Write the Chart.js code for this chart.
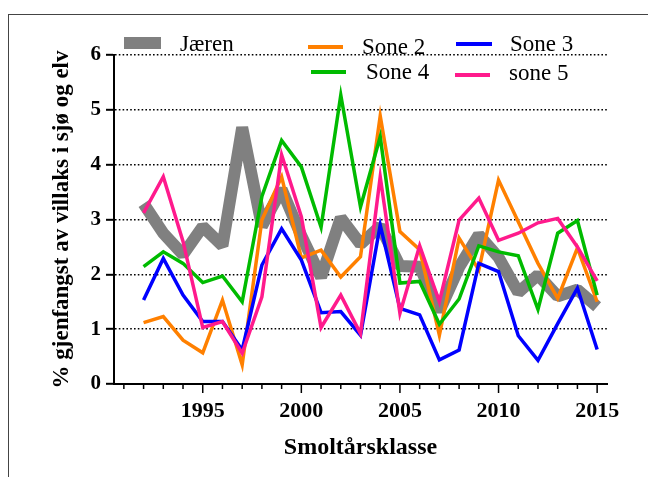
<!DOCTYPE html>
<html lang="no">
<head>
<meta charset="UTF-8">
<title>Gjenfangst av villaks</title>
<style>
  html, body { margin: 0; padding: 0; background: #fff; overflow: hidden; }
  #wrap { position: relative; width: 648px; height: 477px; }
  #frame { position: absolute; left: 8px; top: 14px; width: 700px; height: 500px; border: 1px solid #444; box-sizing: border-box; }
  canvas { position: absolute; left: 0; top: 0; }
</style>
</head>
<body>
<div id="wrap">
  <div id="frame"></div>
  <canvas id="myChart" width="648" height="477"></canvas>
</div>

<script src="https://cdn.jsdelivr.net/npm/chart.js"></script>
<script>
  // data
  const years  = [1992, 1993, 1994, 1995, 1996, 1997, 1998, 1999, 2000, 2001, 2002, 2003,
                  2004, 2005, 2006, 2007, 2008, 2009, 2010, 2011, 2012, 2013, 2014, 2015];
  const jaeren = [3.29, 2.75, 2.36, 2.87, 2.52, 4.68, 2.88, 3.55, 2.70, 1.95, 3.03, 2.55,
                  2.88, 2.15, 2.14, 1.33, 2.13, 2.72, 2.31, 1.67, 1.99, 1.60, 1.72, 1.41];
  const sone2  = [1.12, 1.23, 0.80, 0.57, 1.53, 0.35, 2.99, 3.78, 2.30, 2.44, 1.95, 2.32,
                  4.89, 2.78, 2.45, 0.89, 2.66, 2.08, 3.72, 2.96, 2.20, 1.56, 2.48, 1.50];
  const sone3  = [1.53, 2.29, 1.62, 1.14, 1.14, 0.62, 2.17, 2.83, 2.26, 1.30, 1.32, 0.89,
                  2.90, 1.38, 1.26, 0.44, 0.62, 2.20, 2.05, 0.88, 0.43, 1.10, 1.75, 0.63];
  const sone4  = [2.14, 2.41, 2.20, 1.85, 1.97, 1.50, 3.42, 4.44, 3.96, 2.86, 5.27, 3.23,
                  4.51, 1.84, 1.87, 1.09, 1.55, 2.52, 2.41, 2.34, 1.36, 2.75, 2.98, 1.62];
  const sone5  = [3.12, 3.78, 2.60, 1.03, 1.14, 0.56, 1.59, 4.18, 3.05, 1.03, 1.62, 0.92,
                  3.78, 1.29, 2.52, 1.50, 2.99, 3.39, 2.62, 2.75, 2.94, 3.02, 2.50, 1.88];
  const xTicks = [1991, 1992, 1993, 1994, 1995, 1996, 1997, 1998, 1999, 2000, 2001, 2002, 2003,
                  2004, 2005, 2006, 2007, 2008, 2009, 2010, 2011, 2012, 2013, 2014, 2015];
  const yTicks = [0, 1, 2, 3, 4, 5, 6];

  function pts(vals) {
    return years.map((yr, i) => ({ x: yr, y: vals[i] }));
  }

  Chart.defaults.font.family = "'Liberation Serif', 'Times New Roman', serif";
  Chart.defaults.color = '#000';

  // legend placed like in the original (two rows, overlapping the top of the plot)
  const legendPos = [
    { x1: 124, x2: 161, y: 43, tx: 180, ty: 45, w: 12 },
    { x1: 308, x2: 343, y: 47, tx: 362, ty: 48, w: 4 },
    { x1: 456, x2: 492, y: 44, tx: 510, ty: 45, w: 4 },
    { x1: 311, x2: 346, y: 72, tx: 366, ty: 73, w: 4 },
    { x1: 455, x2: 490, y: 75, tx: 509, ty: 74, w: 4 }
  ];

  const extras = {
    id: 'extras',
    afterDraw(chart) {
      const c = chart.ctx;
      const xs = chart.scales.x;
      // x tick marks, long on every 5th year
      c.save();
      c.strokeStyle = '#000';
      c.lineWidth = 1.5;
      xs.ticks.forEach(t => {
        const px = xs.getPixelForValue(t.value);
        const len = t.value % 5 === 0 ? 9 : 5;
        c.beginPath();
        c.moveTo(px, xs.top);
        c.lineTo(px, xs.top + len);
        c.stroke();
      });
      // legend
      c.font = "23px 'Liberation Serif'";
      c.textBaseline = 'middle';
      c.textAlign = 'left';
      chart.data.datasets.forEach((ds, i) => {
        const p = legendPos[i];
        c.strokeStyle = ds.borderColor;
        c.lineWidth = p.w;
        c.lineCap = 'butt';
        c.beginPath();
        c.moveTo(p.x1, p.y);
        c.lineTo(p.x2, p.y);
        c.stroke();
        c.fillStyle = '#000';
        c.fillText(ds.label, p.tx, p.ty);
      });
      c.restore();
    }
  };

  const ctx = document.querySelector('#myChart');
  new Chart(ctx, {
    type: 'line',
    data: {
      datasets: [
        { label: 'Jæren',  data: pts(jaeren), borderColor: '#808080', borderWidth: 12, borderJoinStyle: 'bevel', order: 5 },
        { label: 'Sone 2', data: pts(sone2),  borderColor: '#ff8000', borderWidth: 3.5, order: 4 },
        { label: 'Sone 3', data: pts(sone3),  borderColor: '#0000ff', borderWidth: 3.5, order: 3 },
        { label: 'Sone 4', data: pts(sone4),  borderColor: '#00bb00', borderWidth: 3.5, order: 2 },
        { label: 'sone 5', data: pts(sone5),  borderColor: '#ff1a8c', borderWidth: 3.5, order: 1 }
      ]
    },
    options: {
      responsive: false,
      animation: false,
      elements: {
        line: { tension: 0, fill: false },
        point: { radius: 0 }
      },
      layout: { padding: { left: 0, top: 55, right: 41, bottom: 0 } },
      plugins: {
        legend: { display: false },
        tooltip: { enabled: false }
      },
      scales: {
        x: {
          type: 'linear',
          min: 1990.5,
          max: 2015.5,
          afterBuildTicks: s => { s.ticks = xTicks.map(v => ({ value: v })); },
          afterFit: s => { s.height = 93; },
          ticks: {
            autoSkip: false,
            maxRotation: 0,
            padding: 14,
            font: { size: 22, weight: 'bold' },
            callback: v => (v % 5 === 0 ? String(v) : '')
          },
          grid: { display: true, drawOnChartArea: false, drawTicks: false },
          border: { display: true, color: '#000', width: 2 },
          title: {
            display: true,
            text: 'Smoltårsklasse',
            font: { size: 24, weight: 'bold' },
            padding: { top: 0, bottom: 15 }
          }
        },
        y: {
          min: 0,
          max: 6,
          afterBuildTicks: s => { s.ticks = yTicks.map(v => ({ value: v })); },
          afterFit: s => { s.width = 114; },
          ticks: {
            padding: 5,
            font: { size: 21, weight: 'bold' }
          },
          grid: {
            color: c => (c.tick && c.tick.value === 0 ? 'rgba(0,0,0,0)' : '#000'),
            lineWidth: 1.6,
            tickColor: '#000',
            tickWidth: 2,
            tickLength: 8,
            tickBorderDash: []
          },
          border: { display: true, color: '#000', width: 2, dash: [1.6, 2.2] },
          title: {
            display: true,
            text: '% gjenfangst av villaks i sjø og elv',
            font: { size: 23, weight: 'bold' },
            padding: { top: 48, bottom: 0 }
          }
        }
      }
    },
    plugins: [extras]
  });
</script>
</body>
</html>
